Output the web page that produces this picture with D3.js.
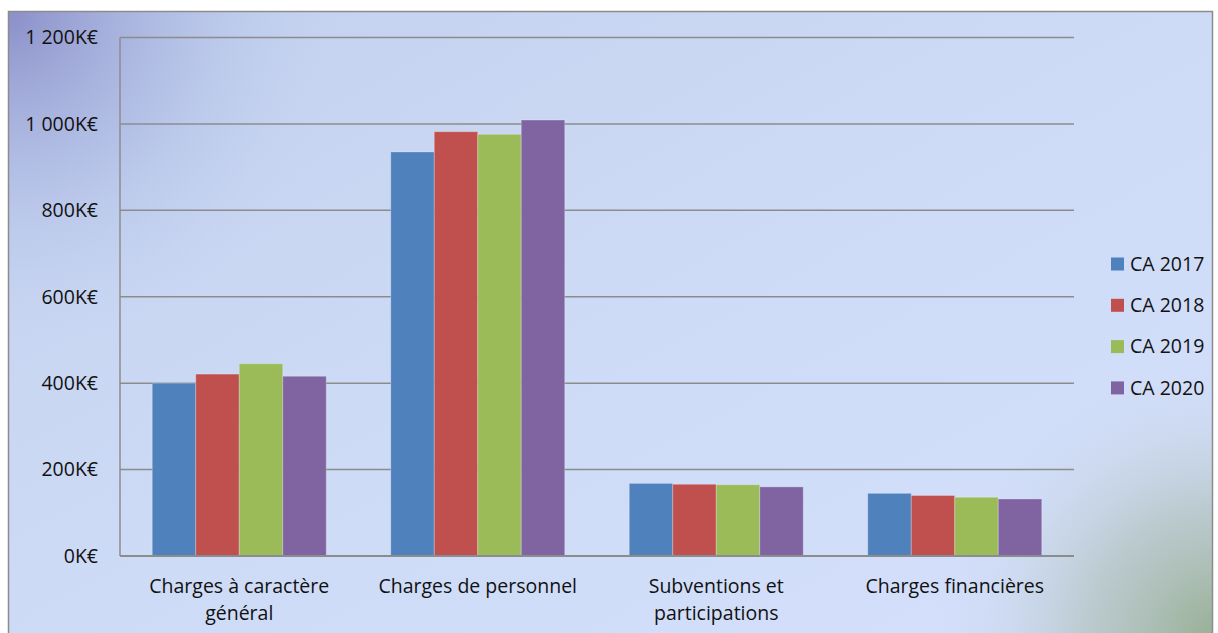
<!DOCTYPE html>
<html>
<head>
<meta charset="utf-8">
<script src="https://cdn.jsdelivr.net/npm/d3@7"></script>
<style>
  body { margin: 0; background: #fff; }
  svg text { font-family: "Open Sans", Lato, sans-serif; fill: #111; }
</style>
</head>
<body>
<div class="visHolder"></div>
<script>
var categories = [["Charges à caractère", "général"], ["Charges de personnel"], ["Subventions et", "participations"], ["Charges financières"]];
var series = ["CA 2017", "CA 2018", "CA 2019", "CA 2020"];
var ca2017 = [400, 935, 168, 145];
var ca2018 = [421, 982, 166, 140];
var ca2019 = [445, 976, 165, 136];
var ca2020 = [416, 1009, 160, 132];
var yTicks = [0, 200, 400, 600, 800, 1000, 1200];
var colors = ["#4f81bd", "#c0504d", "#9bbb59", "#8064a2"];

var values = [ca2017, ca2018, ca2019, ca2020];
var width = 1218, height = 633;
var plot = { left: 120, right: 1074, top: 37.5, bottom: 556 };
var fontSize = "19.5px";

var svg = d3.select(".visHolder").append("svg").attr("width", width).attr("height", height);

var defs = svg.append("defs");
var grad = defs.append("linearGradient").attr("id", "bg")
  .attr("x1", "0").attr("y1", "0").attr("x2", "1").attr("y2", "1");
[[0, "#c2d0ee"], [0.5, "#cddbf6"], [1, "#d5e0fc"]]
  .forEach(function (s) { grad.append("stop").attr("offset", s[0]).attr("stop-color", s[1]); });
var tl = defs.append("radialGradient").attr("id", "tl").attr("gradientUnits", "userSpaceOnUse")
  .attr("cx", 8).attr("cy", 11).attr("r", 340);
[[0, "#8a8fc8", 1], [0.5, "#a9b5e0", 0.6], [1, "#c4d3f0", 0]]
  .forEach(function (s) { tl.append("stop").attr("offset", s[0]).attr("stop-color", s[1]).attr("stop-opacity", s[2]); });
var br = defs.append("radialGradient").attr("id", "br").attr("gradientUnits", "userSpaceOnUse")
  .attr("cx", 1218).attr("cy", 640).attr("r", 290);
[[0, "#97ae92", 1], [0.45, "#b3c3c0", 0.75], [1, "#d3dffb", 0]]
  .forEach(function (s) { br.append("stop").attr("offset", s[0]).attr("stop-color", s[1]).attr("stop-opacity", s[2]); });

svg.append("rect").attr("x", 8.5).attr("y", 11.5).attr("width", 1204).attr("height", 640)
  .style("fill", "url(#bg)");
svg.append("rect").attr("x", 8.5).attr("y", 11.5).attr("width", 1204).attr("height", 640)
  .style("fill", "url(#tl)");
svg.append("rect").attr("x", 8.5).attr("y", 11.5).attr("width", 1204).attr("height", 640)
  .style("fill", "url(#br)").style("stroke", "#8c8c8c").style("stroke-width", 1.5);

var x0 = d3.scaleBand().domain(d3.range(categories.length)).range([plot.left, plot.right]).paddingInner(0).paddingOuter(0);
var x1 = d3.scaleBand().domain(d3.range(series.length)).range([0, 174]);
var groupOffset = (x0.bandwidth() - 174) / 2;
var y = d3.scaleLinear().domain([0, 1200]).range([plot.bottom, plot.top]);

// gridlines
svg.append("g").selectAll("line").data(yTicks).enter().append("line")
  .attr("x1", plot.left).attr("x2", plot.right)
  .attr("y1", d => y(d)).attr("y2", d => y(d))
  .style("stroke", "#8c8c8c").style("stroke-width", 1.5);

svg.append("line").attr("x1", plot.left).attr("x2", plot.left).attr("y1", plot.top).attr("y2", plot.bottom)
  .style("stroke", "#8c8c8c").style("stroke-width", 1.5);

// y labels
svg.append("g").selectAll("text").data(yTicks).enter().append("text")
  .attr("x", 98).attr("y", d => y(d)).attr("dy", "0.35em")
  .style("text-anchor", "end").style("font-size", fontSize)
  .text(d => d3.format(",")(d).replace(",", " ") + "K€");

// bars
var groups = svg.append("g").selectAll("g").data(categories).enter().append("g")
  .attr("transform", (d, i) => "translate(" + (x0(i) + groupOffset) + ",0)");
groups.selectAll("rect").data((d, i) => values.map((v, s) => ({ s: s, v: v[i] }))).enter().append("rect")
  .attr("x", d => x1(d.s)).attr("width", x1.bandwidth())
  .attr("y", d => y(d.v)).attr("height", d => plot.bottom - y(d.v))
  .style("fill", d => colors[d.s])
  .style("stroke", "rgba(255,255,255,0.25)").style("stroke-width", 1);

svg.append("line").attr("x1", plot.left).attr("x2", plot.right).attr("y1", plot.bottom).attr("y2", plot.bottom)
  .style("stroke", "#8c8c8c").style("stroke-width", 2);

// category labels
var cat = svg.append("g").selectAll("text").data(categories).enter().append("text")
  .attr("x", (d, i) => x0(i) + x0.bandwidth() / 2).attr("y", 593)
  .style("text-anchor", "middle").style("font-size", fontSize);
cat.selectAll("tspan").data(d => d).enter().append("tspan")
  .attr("x", function () { return this.parentNode.getAttribute("x"); })
  .attr("dy", (d, i) => i === 0 ? 0 : 27)
  .text(d => d);

// legend
var legend = svg.append("g").selectAll("g").data(series).enter().append("g")
  .attr("transform", (d, i) => "translate(1111," + (264 + i * 41.3) + ")");
legend.append("rect").attr("x", 0).attr("y", -6.5).attr("width", 13).attr("height", 13)
  .style("fill", (d, i) => colors[i]);
legend.append("text").attr("x", 19).attr("y", 0).attr("dy", "0.35em")
  .style("font-size", fontSize).text(d => d);
</script>
</body>
</html>
